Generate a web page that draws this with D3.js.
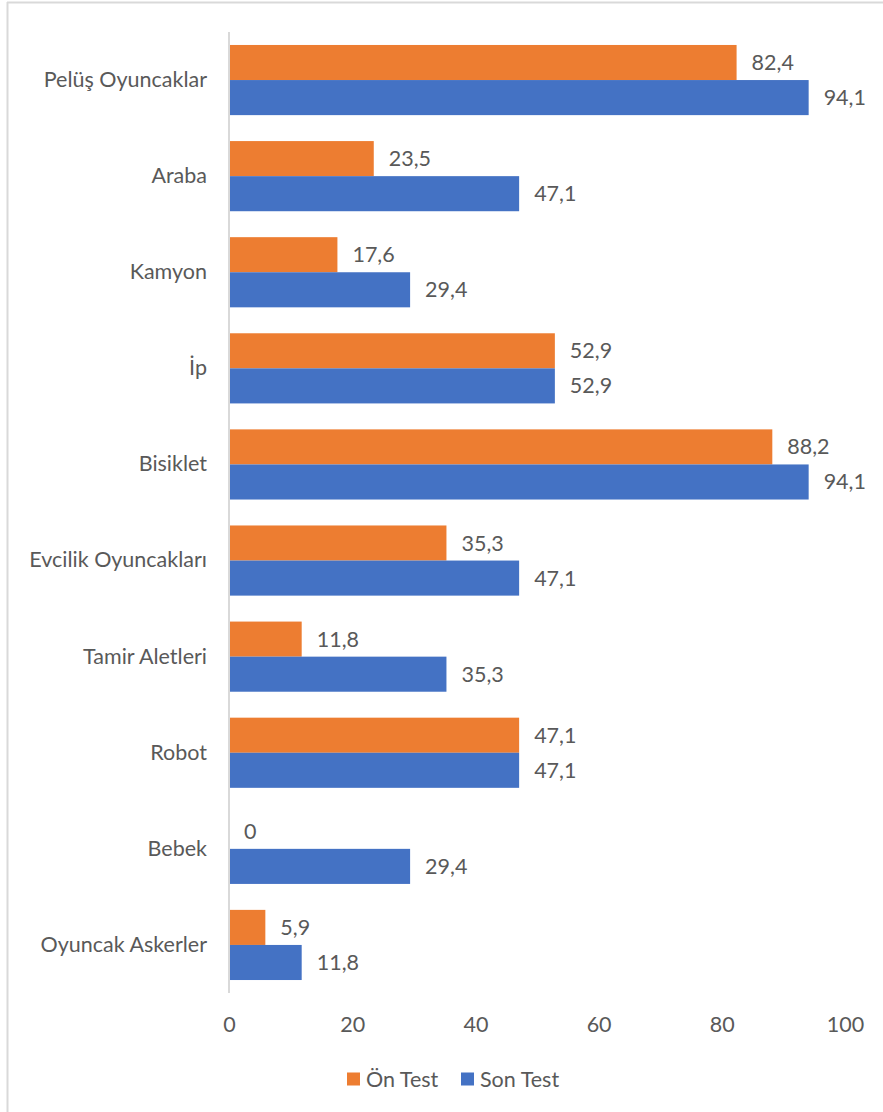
<!DOCTYPE html>
<html>
<head>
<meta charset="utf-8">
<script src="https://cdn.jsdelivr.net/npm/d3@7"></script>
<style>
  html, body { margin: 0; padding: 0; background: #fff; }
  svg text { font-family: Lato, "Open Sans", sans-serif; fill: #595959; }
</style>
</head>
<body>
<svg id="chart" width="883" height="1112"></svg>
<script>
// Toy preference percentages, pre-test vs post-test
const categories = [
  "Pelüş Oyuncaklar", "Araba", "Kamyon", "İp", "Bisiklet",
  "Evcilik Oyuncakları", "Tamir Aletleri", "Robot", "Bebek", "Oyuncak Askerler"
];
const onTest  = [82.4, 23.5, 17.6, 52.9, 88.2, 35.3, 11.8, 47.1, 0, 5.9];
const sonTest = [94.1, 47.1, 29.4, 52.9, 94.1, 47.1, 35.3, 47.1, 29.4, 11.8];
const seriesNames = ["Ön Test", "Son Test"];
const seriesColors = ["#ED7D31", "#4472C4"];
const xTicks = [0, 20, 40, 60, 80, 100];

const svg = d3.select("#chart");
const W = 883, H = 1112;
const FS = 21.5;

// outer frame (left and top edges visible)
svg.append("line").attr("x1", 7.5).attr("x2", 7.5).attr("y1", 2).attr("y2", H)
  .attr("stroke", "#d9d9d9").attr("stroke-width", 2);
svg.append("line").attr("x1", 7).attr("x2", W).attr("y1", 2.5).attr("y2", 2.5)
  .attr("stroke", "#d9d9d9").attr("stroke-width", 2);

const plot = { left: 229, right: 845, top: 32, bottom: 993 };

const x = d3.scaleLinear().domain([0, 100]).range([plot.left, plot.right]);
const y = d3.scaleBand().domain(categories).range([plot.top, plot.bottom]).paddingInner(0.27).paddingOuter(0.135);
const ySub = d3.scaleBand().domain(seriesNames).range([0, y.bandwidth()]);

const fmt = v => v === 0 ? "0" : v.toFixed(1).replace(".", ",");

const rows = categories.map((c, i) => ({ cat: c, vals: [onTest[i], sonTest[i]] }));

const g = svg.append("g");
const groups = g.selectAll("g.cat").data(rows).enter().append("g")
  .attr("transform", d => `translate(0,${y(d.cat)})`);

groups.selectAll("rect").data(d => d.vals.map((v, k) => ({ v, k })))
  .enter().append("rect")
  .attr("x", x(0))
  .attr("y", d => ySub(seriesNames[d.k]))
  .attr("width", d => x(d.v) - x(0))
  .attr("height", ySub.bandwidth())
  .attr("fill", d => seriesColors[d.k]);

groups.selectAll("text.val").data(d => d.vals.map((v, k) => ({ v, k })))
  .enter().append("text")
  .attr("class", "val")
  .attr("x", d => x(d.v) + 15)
  .attr("y", d => ySub(seriesNames[d.k]) + ySub.bandwidth() / 2)
  .attr("dy", "0.35em")
  .attr("font-size", FS)
  .text(d => fmt(d.v));

// category axis
const yAxis = svg.append("g").attr("transform", `translate(${x(0)},0)`)
  .call(d3.axisLeft(y).tickSize(0).tickPadding(22));
yAxis.select(".domain").attr("stroke", "#d9d9d9").attr("stroke-width", 2)
  .attr("d", `M0,${plot.top}V${plot.bottom}`);
yAxis.selectAll("text").attr("font-size", FS).attr("fill", "#595959");

// value axis: labels only
const xAxis = svg.append("g").attr("transform", `translate(0,${plot.bottom})`)
  .call(d3.axisBottom(x).tickValues(xTicks).tickSize(0).tickPadding(24).tickFormat(d3.format("d")));
xAxis.select(".domain").remove();
xAxis.selectAll("text").attr("font-size", FS).attr("fill", "#595959");

// legend
const legend = svg.append("g").attr("transform", "translate(347,1079)");
const legendX = [0, 114];
seriesNames.forEach((name, k) => {
  const lg = legend.append("g").attr("transform", `translate(${legendX[k]},0)`);
  lg.append("rect").attr("x", 0).attr("y", -6.5).attr("width", 13).attr("height", 13).attr("fill", seriesColors[k]);
  lg.append("text").attr("x", 19).attr("y", 0).attr("dy", "0.35em").attr("font-size", FS).text(name);
});
</script>
</body>
</html>
